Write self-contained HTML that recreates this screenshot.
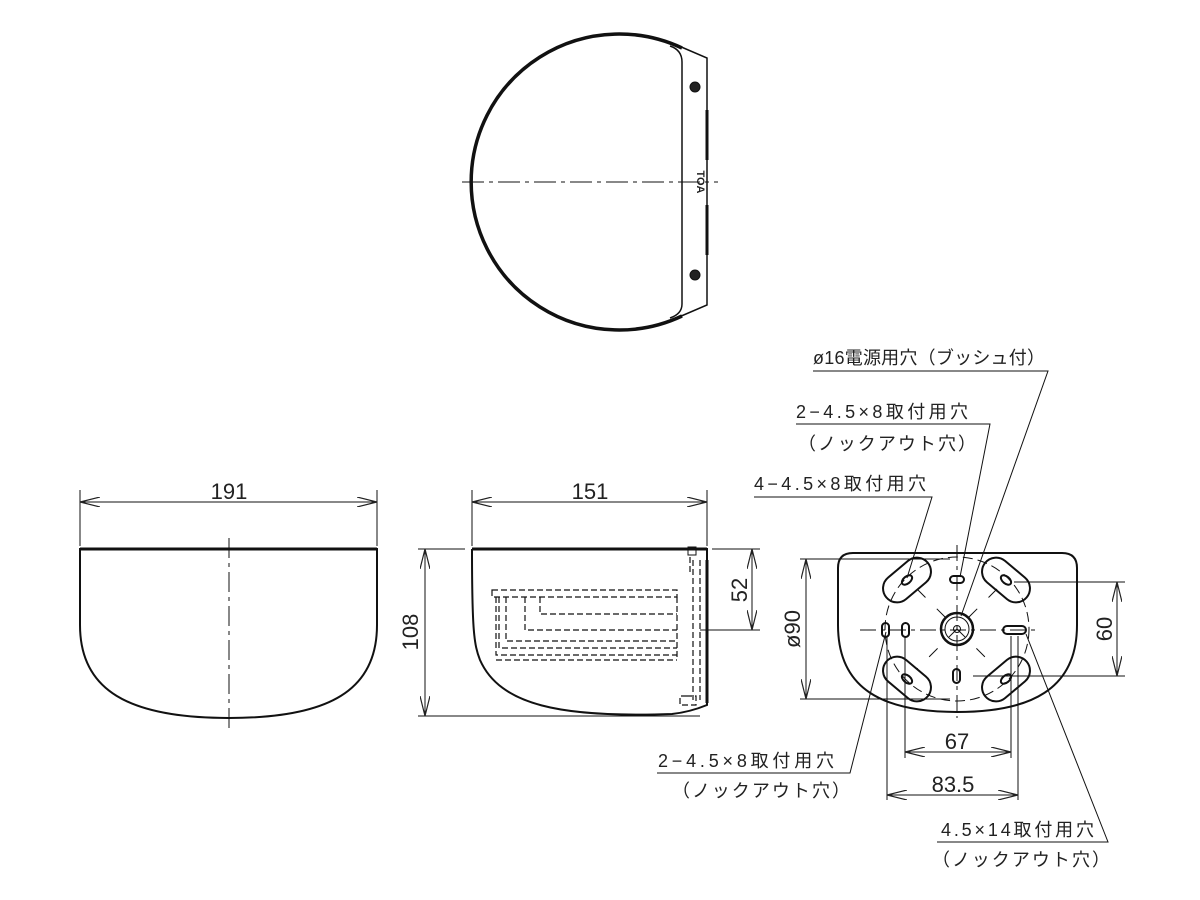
<!DOCTYPE html>
<html><head><meta charset="utf-8"><style>
html,body{margin:0;padding:0;background:#fff}
svg{display:block}
text{font-family:"Liberation Sans","Noto Sans CJK JP",sans-serif;fill:#222}
</style></head><body>
<svg width="1200" height="900" viewBox="0 0 1200 900" xmlns="http://www.w3.org/2000/svg">
<defs>
<marker id="a" viewBox="0 0 20 10" refX="20" refY="5" markerWidth="20" markerHeight="10" markerUnits="userSpaceOnUse" orient="auto-start-reverse"><path d="M0,0 L20,5 L0,10" fill="none" stroke="#222" stroke-width="1.2"/></marker>
</defs>
<g fill="none" stroke="#111">
<path d="M682,48 A148,148 0 1 0 682,316" stroke-width="3.5"/>
<path d="M670,46 Q682,50 682,62 V304 Q682,314 670,318" stroke-width="1.5"/>
<path d="M672,43 L707,58 V305 L672,320" stroke-width="1.5"/>
<path d="M707,110 V160 M707,205 V255" stroke-width="3"/>
<circle cx="695" cy="87" r="5" fill="#222"/>
<circle cx="695" cy="275" r="5" fill="#222"/>
<line x1="462" y1="182" x2="718" y2="182" stroke-width="1" stroke-dasharray="22,5,4,5"/>
<path d="M80,549 H377 V625 C377,690 330,718 229,718 C128,718 80,690 80,625 Z" stroke-width="2"/>
<line x1="80" y1="549" x2="377" y2="549" stroke-width="3"/>
<line x1="229" y1="538" x2="229" y2="728" stroke-width="1" stroke-dasharray="20,5,4,5"/>
<line x1="80" y1="490" x2="80" y2="546" stroke-width="1"/>
<line x1="377" y1="490" x2="377" y2="546" stroke-width="1"/>
<line x1="80" y1="502" x2="377" y2="502" stroke-width="1" marker-start="url(#a)" marker-end="url(#a)"/>
<path d="M472,549 H707 V705 Q690,712 672,714 C560,718 500,705 480,660 C474,645 472,630 472,549" stroke-width="2"/>
<line x1="472" y1="549" x2="707" y2="549" stroke-width="3"/>
<line x1="707" y1="560" x2="707" y2="703" stroke-width="3"/>
<g stroke-width="1.2" stroke-dasharray="6,3">
<path d="M492,590 H677 V597 H492 Z"/>
<path d="M540,597 V614 H677"/>
<path d="M525,597 V630 H677"/>
<path d="M506,597 V641 H677"/>
<path d="M499,597 V648 H677"/>
<path d="M496,597 V655 H677"/>
<path d="M496,660 H677"/>
<path d="M677,597 V660"/>
<path d="M690,557 V572 M693,560 V700 M700,560 V700 M686,696 H696 V705 H680 V696 Z"/>
</g>
<rect x="688" y="547" width="8" height="8" stroke-width="1"/>
<line x1="472" y1="490" x2="472" y2="546" stroke-width="1"/>
<line x1="707" y1="490" x2="707" y2="546" stroke-width="1"/>
<line x1="472" y1="502" x2="707" y2="502" stroke-width="1" marker-start="url(#a)" marker-end="url(#a)"/>
<line x1="418" y1="549" x2="465" y2="549" stroke-width="1"/>
<line x1="418" y1="716" x2="700" y2="716" stroke-width="1"/>
<line x1="425" y1="549" x2="425" y2="716" stroke-width="1" marker-start="url(#a)" marker-end="url(#a)"/>
<line x1="712" y1="549" x2="760" y2="549" stroke-width="1"/>
<line x1="700" y1="630" x2="760" y2="630" stroke-width="1"/>
<line x1="752" y1="549" x2="752" y2="630" stroke-width="1" marker-start="url(#a)" marker-end="url(#a)"/>
<path d="M853,553 H1062 Q1077,553 1077,568 V625 C1077,690 1030,712 957,712 C884,712 838,690 838,625 V568 Q838,553 853,553 Z" stroke-width="2"/>
<circle cx="957" cy="629" r="72" stroke-width="1" stroke-dasharray="10,5"/>
<line x1="860" y1="630" x2="1040" y2="630" stroke-width="1" stroke-dasharray="16,5,4,5"/>
<line x1="957" y1="545" x2="957" y2="718" stroke-width="1" stroke-dasharray="16,5,4,5"/>
<line x1="917" y1="589" x2="997" y2="669" stroke-width="1" stroke-dasharray="12,16"/>
<line x1="997" y1="589" x2="917" y2="669" stroke-width="1" stroke-dasharray="12,16"/>
<circle cx="957" cy="629" r="16" stroke-width="2.5"/>
<circle cx="957" cy="629" r="12" stroke-width="1"/>
<circle cx="957" cy="629" r="3.5" stroke-width="1"/>
<g stroke-width="2">
<rect x="-27" y="-14" width="54" height="28" rx="14" transform="translate(907,580) rotate(-40)"/>
<rect x="-27" y="-14" width="54" height="28" rx="14" transform="translate(1006,580) rotate(40)"/>
<rect x="-27" y="-14" width="54" height="28" rx="14" transform="translate(907,679) rotate(40)"/>
<rect x="-27" y="-14" width="54" height="28" rx="14" transform="translate(1006,679) rotate(-40)"/>
<ellipse cx="907" cy="580" rx="6" ry="3.5" transform="rotate(-40 907 580)"/>
<ellipse cx="1006" cy="580" rx="6" ry="3.5" transform="rotate(40 1006 580)"/>
<ellipse cx="907" cy="679" rx="6" ry="3.5" transform="rotate(40 907 679)"/>
<ellipse cx="1006" cy="679" rx="6" ry="3.5" transform="rotate(-40 1006 679)"/>
<rect x="950" y="576" width="14" height="7" rx="3.5"/>
<rect x="953" y="669" width="7" height="14" rx="3.5"/>
<rect x="882" y="623" width="7" height="14" rx="3.5"/>
<rect x="902" y="623" width="7" height="14" rx="3.5"/>
<rect x="1003" y="626" width="23" height="8" rx="4"/>
</g>
<g stroke-width="1">
<line x1="800" y1="559" x2="950" y2="559"/>
<line x1="800" y1="699" x2="950" y2="699"/>
<line x1="806" y1="559" x2="806" y2="699" marker-start="url(#a)" marker-end="url(#a)"/>
<line x1="1014" y1="582" x2="1125" y2="582"/>
<line x1="973" y1="676" x2="1125" y2="676"/>
<line x1="1117" y1="582" x2="1117" y2="676" marker-start="url(#a)" marker-end="url(#a)"/>
<line x1="905" y1="636" x2="905" y2="758"/>
<line x1="1011" y1="636" x2="1011" y2="758"/>
<line x1="905" y1="752" x2="1011" y2="752" marker-start="url(#a)" marker-end="url(#a)"/>
<line x1="887" y1="636" x2="887" y2="800"/>
<line x1="1018" y1="636" x2="1018" y2="800"/>
<line x1="887" y1="795" x2="1018" y2="795" marker-start="url(#a)" marker-end="url(#a)"/>
<polyline points="813,371 1048,371 961,616"/>
<polyline points="796,424 990,424 960,577"/>
<polyline points="754,497 932,497 907,578"/>
<polyline points="657,773 850,773 886,632"/>
<polyline points="937,842 1108,842 1026,634"/>
</g>
</g>
<g font-size="22" text-anchor="middle">
<text x="229" y="499">191</text>
<text x="590" y="499">151</text>
<text x="957" y="749">67</text>
<text x="953" y="792">83.5</text>
<text transform="translate(418,632) rotate(-90)">108</text>
<text transform="translate(747,590) rotate(-90)">52</text>
<text transform="translate(800,629) rotate(-90)">ø90</text>
<text transform="translate(1112,629) rotate(-90)">60</text>
</g>
<g font-size="18">
<text x="813" y="364" textLength="232" lengthAdjust="spacing">ø16電源用穴（ブッシュ付）</text>
<text x="796" y="418" textLength="172" lengthAdjust="spacing">2−4.5×8取付用穴</text>
<text x="798" y="450" textLength="178" lengthAdjust="spacing">（ノックアウト穴）</text>
<text x="754" y="490" textLength="172" lengthAdjust="spacing">4−4.5×8取付用穴</text>
<text x="658" y="767" textLength="176" lengthAdjust="spacing">2−4.5×8取付用穴</text>
<text x="672" y="797" textLength="178" lengthAdjust="spacing">（ノックアウト穴）</text>
<text x="941" y="836" textLength="153" lengthAdjust="spacing">4.5×14取付用穴</text>
<text x="932" y="866" textLength="178" lengthAdjust="spacing">（ノックアウト穴）</text>
</g>
<text x="697" y="182" font-size="11" font-weight="bold" text-anchor="middle" transform="rotate(90 697 182)">TOA</text>
</svg>
</body></html>
